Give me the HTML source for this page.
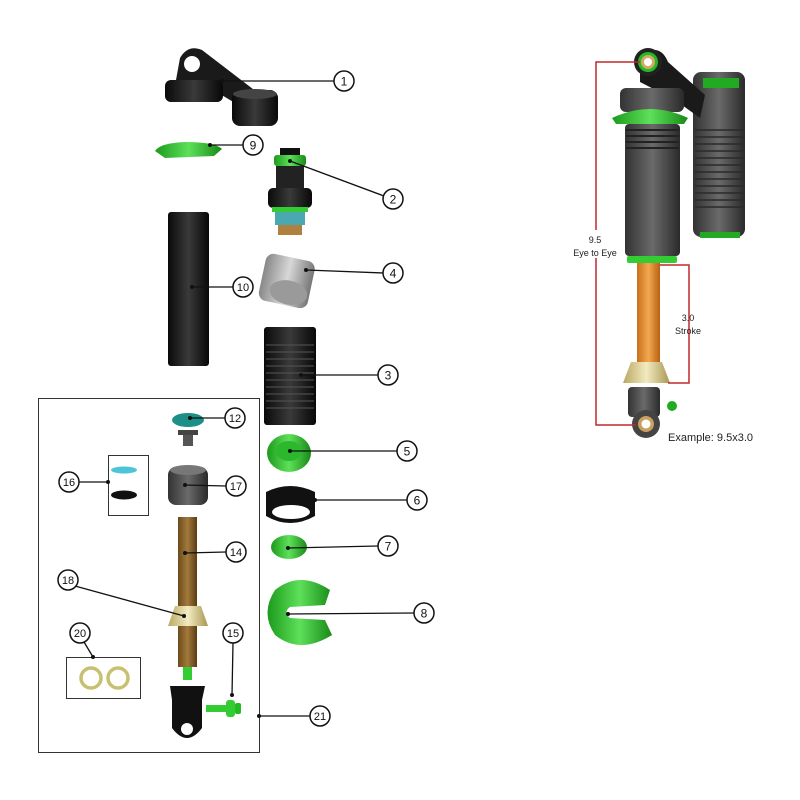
<!DOCTYPE html>
<html><head><meta charset="utf-8"><style>html,body{margin:0;padding:0;background:#fff}svg{display:block}</style></head><body>
<svg width="800" height="800" viewBox="0 0 800 800" xmlns="http://www.w3.org/2000/svg" font-family="Liberation Sans, sans-serif">
<defs>
<linearGradient id="blk" x1="0" x2="1"><stop offset="0" stop-color="#0a0a0a"/><stop offset=".5" stop-color="#3a3a3a"/><stop offset="1" stop-color="#080808"/></linearGradient>
<linearGradient id="gry" x1="0" x2="1"><stop offset="0" stop-color="#333"/><stop offset=".5" stop-color="#6a6a6a"/><stop offset="1" stop-color="#2a2a2a"/></linearGradient>
<linearGradient id="org" x1="0" x2="1"><stop offset="0" stop-color="#c8701a"/><stop offset=".5" stop-color="#f3a851"/><stop offset="1" stop-color="#b86010"/></linearGradient>
<linearGradient id="brn" x1="0" x2="1"><stop offset="0" stop-color="#6b4a1a"/><stop offset=".5" stop-color="#a27a3c"/><stop offset="1" stop-color="#5a3c12"/></linearGradient>
<linearGradient id="grn" x1="0" x2="1"><stop offset="0" stop-color="#1c9a1c"/><stop offset=".5" stop-color="#5ee05a"/><stop offset="1" stop-color="#178a17"/></linearGradient>
<linearGradient id="sil" x1="0" x2="1"><stop offset="0" stop-color="#888"/><stop offset=".5" stop-color="#d8d8d8"/><stop offset="1" stop-color="#777"/></linearGradient>
<linearGradient id="crm" x1="0" x2="1"><stop offset="0" stop-color="#b9a862"/><stop offset=".5" stop-color="#f2ebc0"/><stop offset="1" stop-color="#a89550"/></linearGradient>
</defs>

<!-- Part 1 -->
<path d="M176 80 L180 58 Q188 44 202 50 L262 96 L250 112 L220 94 L210 86 Z" fill="#1a1a1a"/>
<circle cx="192" cy="64" r="8" fill="#fff"/>
<rect x="165" y="80" width="58" height="22" rx="6" fill="url(#blk)"/>
<rect x="232" y="90" width="46" height="36" rx="8" fill="url(#blk)"/>
<ellipse cx="255" cy="94" rx="22" ry="5" fill="#444"/>

<!-- Part 9 -->
<path d="M155 151 Q160 143 185 142 Q215 142 222 149 L214 156 L165 158 Z" fill="url(#grn)"/>

<!-- Part 2 -->
<rect x="280" y="148" width="20" height="8" fill="#111"/>
<rect x="274" y="155" width="32" height="11" rx="3" fill="url(#grn)"/>
<rect x="276" y="166" width="28" height="24" fill="#222"/>
<rect x="268" y="188" width="44" height="20" rx="5" fill="url(#blk)"/>
<rect x="272" y="207" width="36" height="5" fill="#3c3"/>
<rect x="275" y="212" width="30" height="13" fill="#4aa8b0"/>
<rect x="278" y="225" width="24" height="10" fill="#b08040"/>

<!-- Part 10 -->
<rect x="168" y="212" width="41" height="154" rx="3" fill="url(#blk)"/>

<!-- Part 4 -->
<g transform="rotate(12 287 280)"><rect x="262" y="257" width="50" height="48" rx="8" fill="url(#sil)"/><ellipse cx="291" cy="292" rx="19" ry="12" fill="#9a9a9a"/></g>

<!-- Part 3 -->
<rect x="264" y="327" width="52" height="98" rx="3" fill="url(#blk)"/>
<g stroke="#555" stroke-width="1">
<line x1="266" y1="345" x2="314" y2="345"/><line x1="266" y1="352" x2="314" y2="352"/><line x1="266" y1="359" x2="314" y2="359"/><line x1="266" y1="366" x2="314" y2="366"/><line x1="266" y1="373" x2="314" y2="373"/><line x1="266" y1="380" x2="314" y2="380"/><line x1="266" y1="387" x2="314" y2="387"/><line x1="266" y1="394" x2="314" y2="394"/><line x1="266" y1="401" x2="314" y2="401"/><line x1="266" y1="408" x2="314" y2="408"/></g>

<!-- Big box -->
<rect x="38.5" y="398.5" width="221" height="354" fill="none" stroke="#333" stroke-width="1"/>
<rect x="108.5" y="455.5" width="40" height="60" fill="none" stroke="#333"/>
<rect x="66.5" y="657.5" width="74" height="41" fill="none" stroke="#333"/>

<!-- 12 -->
<ellipse cx="188" cy="420" rx="16" ry="7" fill="#1e8f86"/>
<rect x="178" y="430" width="20" height="5" fill="#444"/>
<rect x="183" y="435" width="10" height="11" fill="#555"/>
<!-- 16 -->
<ellipse cx="124" cy="470" rx="13" ry="3.5" fill="#4cc6d6"/>
<ellipse cx="124" cy="495" rx="13" ry="4.5" fill="#111"/>
<!-- 17 -->
<rect x="168" y="467" width="40" height="38" rx="8" fill="url(#gry)"/>
<ellipse cx="188" cy="470" rx="18" ry="5" fill="#777"/>
<!-- 14 -->
<rect x="178" y="517" width="19" height="150" fill="url(#brn)"/>
<rect x="183" y="667" width="9" height="13" fill="#3c3"/>
<!-- 18 -->
<path d="M175 606 L201 606 L208 626 L168 626 Z" fill="url(#crm)"/>
<!-- eye -->
<path d="M170 686 L205 686 L202 700 L202 728 Q187 748 172 728 L172 700 Z" fill="#111"/>
<circle cx="187" cy="729" r="6" fill="#fff"/>
<!-- 15 -->
<rect x="206" y="705" width="20" height="7" fill="#3c3"/>
<rect x="226" y="700" width="9" height="17" rx="3" fill="#3c3"/>
<rect x="235" y="703" width="6" height="11" rx="2" fill="#2b2"/>
<!-- 20 -->
<circle cx="91" cy="678" r="10" fill="none" stroke="#c8c070" stroke-width="3.5"/>
<circle cx="118" cy="678" r="10" fill="none" stroke="#c8c070" stroke-width="3.5"/>

<!-- 5 -->
<ellipse cx="289" cy="453" rx="22" ry="19" fill="url(#grn)"/>
<ellipse cx="289" cy="451" rx="13" ry="10" fill="#2cb82c"/>
<!-- 6 -->
<path d="M266 492 Q290 480 315 492 L315 516 Q290 530 266 516 Z" fill="#111"/>
<ellipse cx="291" cy="512" rx="19" ry="7" fill="#fff"/>
<!-- 7 -->
<ellipse cx="289" cy="547" rx="18" ry="12" fill="url(#grn)"/>
<!-- 8 -->
<path d="M330 590 Q300 570 275 590 Q260 613 275 635 Q300 655 332 635 L325 620 L290 618 Q283 612 290 607 L325 605 Z" fill="url(#grn)"/>

<!-- leader lines -->
<g stroke="#111" stroke-width="1.3" fill="none">
<line x1="222" y1="81" x2="334" y2="81"/>
<line x1="210" y1="145" x2="243" y2="145"/>
<line x1="290" y1="161" x2="384" y2="196"/>
<line x1="306" y1="270" x2="383" y2="273"/>
<line x1="192" y1="287" x2="233" y2="287"/>
<line x1="301" y1="375" x2="378" y2="375"/>
<line x1="190" y1="418" x2="225" y2="418"/>
<line x1="290" y1="451" x2="397" y2="451"/>
<line x1="79" y1="482" x2="108" y2="482"/>
<line x1="185" y1="485" x2="226" y2="486"/>
<line x1="315" y1="500" x2="407" y2="500"/>
<line x1="185" y1="553" x2="226" y2="552"/>
<line x1="288" y1="548" x2="378" y2="546"/>
<line x1="75" y1="586" x2="184" y2="616"/>
<line x1="288" y1="614" x2="414" y2="613"/>
<line x1="84" y1="642" x2="93" y2="657"/>
<line x1="233" y1="643" x2="232" y2="695"/>
<line x1="259" y1="716" x2="310" y2="716"/>
</g>
<g fill="#111">
<circle cx="222" cy="81" r="2"/><circle cx="210" cy="145" r="2"/><circle cx="290" cy="161" r="2"/><circle cx="306" cy="270" r="2"/><circle cx="192" cy="287" r="2"/><circle cx="301" cy="375" r="2"/><circle cx="190" cy="418" r="2"/><circle cx="290" cy="451" r="2"/><circle cx="108" cy="482" r="2"/><circle cx="185" cy="485" r="2"/><circle cx="315" cy="500" r="2"/><circle cx="185" cy="553" r="2"/><circle cx="288" cy="548" r="2"/><circle cx="184" cy="616" r="2"/><circle cx="288" cy="614" r="2"/><circle cx="93" cy="657" r="2"/><circle cx="232" cy="695" r="2"/><circle cx="259" cy="716" r="2"/>
</g>
<g fill="#fff" stroke="#111" stroke-width="1.5">
<circle cx="344" cy="81" r="10"/><circle cx="253" cy="145" r="10"/><circle cx="393" cy="199" r="10"/><circle cx="393" cy="273" r="10"/><circle cx="243" cy="287" r="10"/><circle cx="388" cy="375" r="10"/><circle cx="235" cy="418" r="10"/><circle cx="407" cy="451" r="10"/><circle cx="69" cy="482" r="10"/><circle cx="236" cy="486" r="10"/><circle cx="417" cy="500" r="10"/><circle cx="236" cy="552" r="10"/><circle cx="388" cy="546" r="10"/><circle cx="68" cy="580" r="10"/><circle cx="424" cy="613" r="10"/><circle cx="80" cy="633" r="10"/><circle cx="233" cy="633" r="10"/><circle cx="320" cy="716" r="10"/>
</g>
<g font-size="12" text-anchor="middle" fill="#111">
<text x="344" y="85.5">1</text><text x="253" y="149.5">9</text><text x="393" y="203.5">2</text><text x="393" y="277.5">4</text><text x="243" y="291" font-size="11">10</text><text x="388" y="379.5">3</text><text x="235" y="422" font-size="11">12</text><text x="407" y="455.5">5</text><text x="69" y="486" font-size="11">16</text><text x="236" y="490" font-size="11">17</text><text x="417" y="504.5">6</text><text x="236" y="556" font-size="11">14</text><text x="388" y="550.5">7</text><text x="68" y="584" font-size="11">18</text><text x="424" y="617.5">8</text><text x="80" y="637" font-size="11">20</text><text x="233" y="637" font-size="11">15</text><text x="320" y="720" font-size="11">21</text>
</g>

<!-- Right shock -->
<rect x="693" y="72" width="52" height="165" rx="8" fill="url(#gry)"/>
<g stroke="#2a2a2a" stroke-width="1.5">
<line x1="695" y1="130" x2="743" y2="130"/><line x1="695" y1="137" x2="743" y2="137"/><line x1="695" y1="144" x2="743" y2="144"/><line x1="695" y1="151" x2="743" y2="151"/><line x1="695" y1="158" x2="743" y2="158"/><line x1="695" y1="165" x2="743" y2="165"/><line x1="695" y1="172" x2="743" y2="172"/><line x1="695" y1="179" x2="743" y2="179"/><line x1="695" y1="186" x2="743" y2="186"/><line x1="695" y1="193" x2="743" y2="193"/><line x1="695" y1="200" x2="743" y2="200"/><line x1="695" y1="207" x2="743" y2="207"/></g>
<rect x="703" y="78" width="36" height="10" fill="#2a2"/>
<rect x="700" y="232" width="40" height="6" fill="#2a2"/>
<path d="M640 55 Q660 42 668 62 L705 95 L700 118 L675 100 L640 82 Z" fill="#1a1a1a"/>
<rect x="620" y="88" width="64" height="24" rx="6" fill="url(#gry)"/>
<path d="M612 118 Q650 100 688 118 L684 124 L616 124 Z" fill="url(#grn)"/>
<rect x="625" y="124" width="55" height="132" rx="4" fill="url(#gry)"/>
<g stroke="#222" stroke-width="2"><line x1="626" y1="130" x2="679" y2="130"/><line x1="626" y1="136" x2="679" y2="136"/><line x1="626" y1="142" x2="679" y2="142"/><line x1="626" y1="148" x2="679" y2="148"/></g>
<rect x="627" y="256" width="50" height="7" rx="2" fill="#3c3"/>
<rect x="637" y="263" width="23" height="102" fill="url(#org)"/>
<path d="M631 362 L662 362 L670 383 L623 383 Z" fill="url(#crm)"/>
<rect x="628" y="387" width="32" height="30" rx="4" fill="url(#gry)"/>
<circle cx="672" cy="406" r="5" fill="#2a2"/>
<circle cx="646" cy="424" r="14" fill="#444"/>
<circle cx="646" cy="424" r="8" fill="#c9a060"/><circle cx="646" cy="424" r="4.5" fill="#fff"/>
<circle cx="648" cy="62" r="14" fill="#222"/>
<circle cx="648" cy="62" r="10" fill="#2b2"/>
<circle cx="648" cy="62" r="7" fill="#d6a868"/><circle cx="648" cy="62" r="4" fill="#fff"/>

<g stroke="#c0282a" stroke-width="1.5" fill="none">
<polyline points="640,62 596,62 596,230"/>
<polyline points="596,258 596,425 636,425"/>
<polyline points="660,265 689,265 689,383 668,383"/>
</g>
<g font-size="9" text-anchor="middle" fill="#222">
<text x="595" y="243">9.5</text><text x="595" y="256">Eye to Eye</text>
<text x="688" y="321">3.0</text><text x="688" y="334">Stroke</text>
</g>
<text x="668" y="441" font-size="11" fill="#222">Example: 9.5x3.0</text>
</svg>
</body></html>
